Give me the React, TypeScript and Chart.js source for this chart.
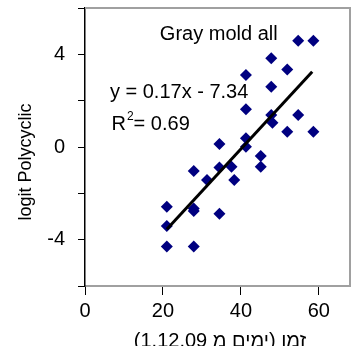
import React, { useEffect, useRef } from 'react';
import { Chart, registerables } from 'chart.js';

Chart.register(...registerables);

// ---- data ----
const xDays = [21, 21, 21, 27.9, 27.9, 27.9, 27.9, 31.3, 34.5, 34.5, 34.5, 37.6, 38.3, 41.3, 41.3, 41.3, 41.3, 45.1, 45.1, 47.8, 47.8, 47.8, 48.1, 51.9, 51.9, 54.7, 54.7, 58.6, 58.6];
const logitValues = [-2.58, -3.41, -4.3, -1.04, -2.65, -2.76, -4.3, -1.42, 0.13, -0.88, -2.88, -0.85, -1.42, 3.11, 1.63, 0.38, 0.01, -0.39, -0.85, 3.83, 2.6, 1.38, 1.05, 3.35, 0.66, 4.59, 1.38, 4.59, 0.66];
const trendX = [21, 58.3];
const trendY = [-3.55, 3.25];
const xTickValues = [0, 20, 40, 60];
const yTickLabels = [4, 0, -4];
const chartTitle = 'Gray mold all';
const equationText = 'y = 0.17x - 7.34';
const r2Text = '= 0.69';
const xTitle = 'זמן (ימים מ 1.12.09)';
const yTitle = 'logit Polycyclic';

const FONT = '"Liberation Sans", Arial, sans-serif';

const annotate = {
  id: 'annotate',
  afterDraw(chart: any) {
    const { ctx, chartArea: a, scales } = chart;
    const xs = scales.x;
    const ys = scales.y;
    ctx.save();
    // gray frame (top and right)
    ctx.strokeStyle = '#a0a0a0';
    ctx.lineWidth = 2;
    ctx.beginPath();
    ctx.moveTo(a.left, a.top);
    ctx.lineTo(a.right, a.top);
    ctx.lineTo(a.right, a.bottom);
    ctx.stroke();

    ctx.fillStyle = '#000';
    ctx.textAlign = 'left';
    ctx.textBaseline = 'alphabetic';
    ctx.font = `20px ${FONT}`;
    ctx.fillText(chartTitle, xs.getPixelForValue(19.2), ys.getPixelForValue(4.62));
    ctx.fillText(equationText, xs.getPixelForValue(6.4), ys.getPixelForValue(2.1));
    const rx = xs.getPixelForValue(6.8);
    const ry = ys.getPixelForValue(0.73);
    ctx.fillText('R', rx, ry);
    const rw = ctx.measureText('R').width;
    ctx.font = `12px ${FONT}`;
    ctx.fillText('2', rx + rw + 1, ry - 10);
    const sw = ctx.measureText('2').width;
    ctx.font = `20px ${FONT}`;
    ctx.fillText(r2Text, rx + rw + sw + 1, ry);

    // axis titles
    ctx.font = `18px ${FONT}`;
    ctx.textAlign = 'center';
    ctx.textBaseline = 'middle';
    ctx.save();
    ctx.translate(26, 162);
    ctx.rotate(-Math.PI / 2);
    ctx.fillText(yTitle, 0, 0);
    ctx.restore();

    ctx.font = `20px ${FONT}`;
    ctx.textBaseline = 'alphabetic';
    (ctx as any).direction = 'rtl';
    ctx.fillText(xTitle, 220, 347);
    ctx.restore();
  },
};

export default function App() {
  const ref = useRef<HTMLCanvasElement>(null);
  useEffect(() => {
    const points = xDays.map((x, i) => ({ x, y: logitValues[i] }));
    const trend = trendX.map((x, i) => ({ x, y: trendY[i] }));
    const chart = new Chart(ref.current!, {
      type: 'scatter',
      data: {
        datasets: [
          {
            data: trend,
            showLine: true,
            borderColor: '#000',
            borderWidth: 3,
            pointRadius: 0,
            order: 0,
          } as any,
          {
            data: points,
            pointStyle: 'rectRot',
            pointRadius: 6,
            backgroundColor: '#000080',
            borderColor: '#000080',
            borderWidth: 0,
            order: 1,
          } as any,
        ],
      },
      options: {
        responsive: false,
        animation: false,
        devicePixelRatio: 1,
        layout: { padding: { top: 8, right: 5, left: 0, bottom: 0 } },
        plugins: { legend: { display: false }, tooltip: { enabled: false } },
        scales: {
          x: {
            type: 'linear',
            min: 0,
            max: 68,
            afterBuildTicks: (s: any) => {
              s.ticks = xTickValues.map((v) => ({ value: v }));
            },
            afterFit: (s: any) => {
              s.height = 60;
              s.paddingLeft = 0;
              s.paddingRight = 0;
            },
            grid: { drawOnChartArea: false, drawTicks: true, tickLength: 9, color: '#000', lineWidth: 1 },
            border: { color: '#a0a0a0', width: 2 },
            ticks: { font: { size: 20, family: FONT }, color: '#000', padding: 4, maxRotation: 0 },
          },
          y: {
            type: 'linear',
            min: -6,
            max: 6,
            ticks: {
              stepSize: 2,
              font: { size: 20, family: FONT },
              color: '#000',
              padding: 13,
              callback: (v: any) => (yTickLabels.includes(Number(v)) ? String(v) : ''),
            },
            afterFit: (s: any) => {
              s.width = 85;
              s.paddingTop = 0;
              s.paddingBottom = 0;
            },
            grid: { drawOnChartArea: false, drawTicks: true, tickLength: 7, color: '#000', lineWidth: 1 },
            border: { color: '#000', width: 1.5 },
          },
        },
      },
      plugins: [annotate],
    });
    return () => chart.destroy();
  }, []);
  return (
    <div style={{ position: 'absolute', left: 0, top: 0, width: 356, height: 346, background: '#fff' }}>
      <canvas ref={ref} width={356} height={346} style={{ display: 'block' }} />
    </div>
  );
}
